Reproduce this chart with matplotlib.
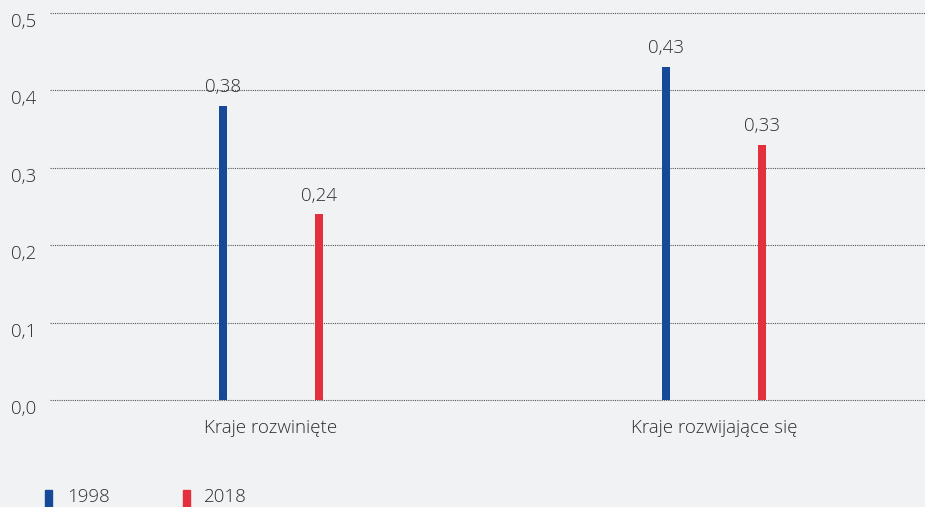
import matplotlib.pyplot as plt
import numpy as np

# data
categories = ['Kraje rozwinięte', 'Kraje rozwijające się']
years = ['1998', '2018']
values_1998 = [0.38, 0.43]
values_2018 = [0.24, 0.33]
y_ticks = [0.0, 0.1, 0.2, 0.3, 0.4, 0.5]

bg = '#f1f2f4'
text_col = '#2e2e2e'
blue = '#164a98'
red = '#e2303c'

plt.rcParams['font.family'] = ['Open Sans', 'DejaVu Sans']
plt.rcParams['font.weight'] = 'light'
fs = 13.5

fig = plt.figure(figsize=(9.25, 5.07), dpi=100, facecolor=bg)
ax = fig.add_axes([50 / 925, 107 / 507, 875 / 925, 387 / 507], facecolor=bg)

x = np.arange(len(categories))
offset = 0.109
width = 0.018
b1 = ax.bar(x - offset, values_1998, width, color=blue, zorder=3)
b2 = ax.bar(x + offset, values_2018, width, color=red, zorder=3)

for bars in (b1, b2):
    for rect in bars:
        h = rect.get_height()
        ax.annotate(f'{h:.2f}'.replace('.', ','),
                    (rect.get_x() + rect.get_width() / 2, h),
                    xytext=(0, 7), textcoords='offset points',
                    ha='center', va='bottom', fontsize=fs, color=text_col)

ax.set_xlim(-0.499, 1.476)
ax.set_ylim(0, 0.5)

# dotted horizontal grid lines
for t in y_ticks:
    ax.axhline(t, color='#555555', lw=0.8, ls=(0, (1, 1)), zorder=1, clip_on=False)
    ax.text(-41 / 925, t, f'{t:.1f}'.replace('.', ','), transform=ax.get_yaxis_transform(),
            ha='left', va='top', fontsize=fs, color=text_col)

ax.set_yticks([])
ax.set_xticks(x)
ax.set_xticklabels(categories, fontsize=fs, color=text_col)
ax.tick_params(axis='x', length=0, pad=14)
for s in ax.spines.values():
    s.set_visible(False)

# legend at the bottom
fig.patches.append(plt.Rectangle((45 / 925, 0), 7 / 925, 17 / 507, transform=fig.transFigure,
                                 color=blue, figure=fig))
fig.text(67 / 925, 1 / 507, years[0], fontsize=fs, color=text_col, va='bottom')
fig.patches.append(plt.Rectangle((183 / 925, 0), 7 / 925, 17 / 507, transform=fig.transFigure,
                                 color=red, figure=fig))
fig.text(204 / 925, 1 / 507, years[1], fontsize=fs, color=text_col, va='bottom')

fig.savefig('out.png', dpi=100, facecolor=bg)
